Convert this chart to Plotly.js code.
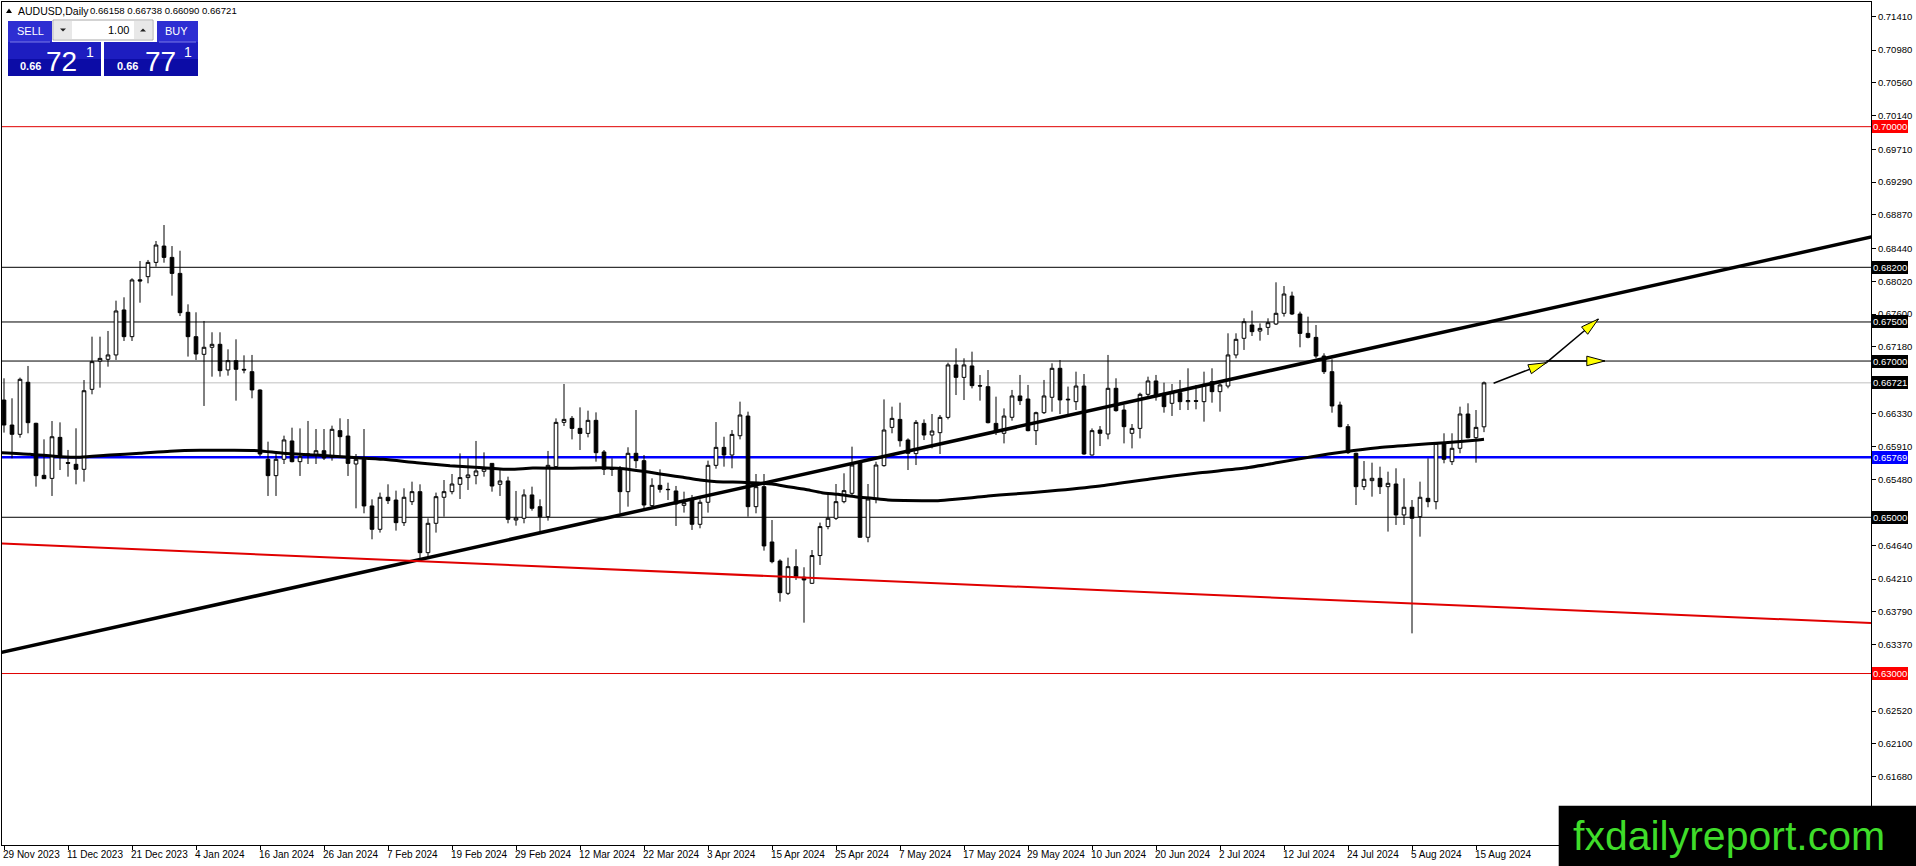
<!DOCTYPE html>
<html><head><meta charset="utf-8">
<script src="https://cdn.plot.ly/plotly-3.0.1.min.js"></script>
<style>html,body{margin:0;padding:0;background:#fff;overflow:hidden}#chart{width:1916px;height:866px}</style>
</head><body><div id="chart"></div>
<script>
// ---------- DATA ----------
const dates = [
"2023-11-29","2023-11-30","2023-12-01","2023-12-04","2023-12-05","2023-12-06","2023-12-07","2023-12-08","2023-12-11","2023-12-12",
"2023-12-13","2023-12-14","2023-12-15","2023-12-18","2023-12-19","2023-12-20","2023-12-21","2023-12-22","2023-12-26","2023-12-27",
"2023-12-28","2023-12-29","2024-01-02","2024-01-03","2024-01-04","2024-01-05","2024-01-08","2024-01-09","2024-01-10","2024-01-11",
"2024-01-12","2024-01-15","2024-01-16","2024-01-17","2024-01-18","2024-01-19","2024-01-22","2024-01-23","2024-01-24","2024-01-25",
"2024-01-26","2024-01-29","2024-01-30","2024-01-31","2024-02-01","2024-02-02","2024-02-05","2024-02-06","2024-02-07","2024-02-08",
"2024-02-09","2024-02-12","2024-02-13","2024-02-14","2024-02-15","2024-02-16","2024-02-19","2024-02-20","2024-02-21","2024-02-22",
"2024-02-23","2024-02-26","2024-02-27","2024-02-28","2024-02-29","2024-03-01","2024-03-04","2024-03-05","2024-03-06","2024-03-07",
"2024-03-08","2024-03-11","2024-03-12","2024-03-13","2024-03-14","2024-03-15","2024-03-18","2024-03-19","2024-03-20","2024-03-21",
"2024-03-22","2024-03-25","2024-03-26","2024-03-27","2024-03-28","2024-03-29","2024-04-01","2024-04-02","2024-04-03","2024-04-04",
"2024-04-05","2024-04-08","2024-04-09","2024-04-10","2024-04-11","2024-04-12","2024-04-15","2024-04-16","2024-04-17","2024-04-18",
"2024-04-19","2024-04-22","2024-04-23","2024-04-24","2024-04-25","2024-04-26","2024-04-29","2024-04-30","2024-05-01","2024-05-02",
"2024-05-03","2024-05-06","2024-05-07","2024-05-08","2024-05-09","2024-05-10","2024-05-13","2024-05-14","2024-05-15","2024-05-16",
"2024-05-17","2024-05-20","2024-05-21","2024-05-22","2024-05-23","2024-05-24","2024-05-27","2024-05-28","2024-05-29","2024-05-30",
"2024-05-31","2024-06-03","2024-06-04","2024-06-05","2024-06-06","2024-06-07","2024-06-10","2024-06-11","2024-06-12","2024-06-13",
"2024-06-14","2024-06-17","2024-06-18","2024-06-19","2024-06-20","2024-06-21","2024-06-24","2024-06-25","2024-06-26","2024-06-27",
"2024-06-28","2024-07-01","2024-07-02","2024-07-03","2024-07-04","2024-07-05","2024-07-08","2024-07-09","2024-07-10","2024-07-11",
"2024-07-12","2024-07-15","2024-07-16","2024-07-17","2024-07-18","2024-07-19","2024-07-22","2024-07-23","2024-07-24","2024-07-25",
"2024-07-26","2024-07-29","2024-07-30","2024-07-31","2024-08-01","2024-08-02","2024-08-05","2024-08-06","2024-08-07","2024-08-08",
"2024-08-09","2024-08-12","2024-08-13","2024-08-14","2024-08-15","2024-08-16"];

const opens = [
0.66501,0.66181,0.66062,0.66728,0.66203,0.65537,0.65498,0.66023,0.65700,0.65678,
0.65614,0.66638,0.67000,0.67022,0.67078,0.67654,0.67312,0.68040,0.68080,0.68263,
0.68472,0.68327,0.68122,0.67624,0.67312,0.67086,0.67176,0.67214,0.66886,0.67005,
0.66894,0.66864,0.66629,0.65742,0.65533,0.65742,0.65977,0.65712,0.65797,0.65797,
0.65852,0.65767,0.66109,0.66040,0.65682,0.65742,0.65145,0.64846,0.65256,0.65221,
0.64931,0.65200,0.65328,0.64547,0.64923,0.65256,0.65328,0.65422,0.65508,0.65533,
0.65589,0.65690,0.65422,0.65465,0.64965,0.64987,0.65286,0.65136,0.65008,0.65648,
0.66215,0.66266,0.66138,0.66074,0.66241,0.65836,0.65614,0.65605,0.65328,0.65819,
0.65725,0.65149,0.65409,0.65358,0.65337,0.65153,0.65221,0.64910,0.65192,0.65665,
0.65895,0.65797,0.66044,0.66296,0.65136,0.65392,0.64684,0.64440,0.64027,0.64368,
0.64232,0.64155,0.64510,0.64881,0.64987,0.65200,0.65307,0.65699,0.64744,0.65234,
0.65661,0.66151,0.66253,0.65989,0.65815,0.66202,0.66053,0.66083,0.66279,0.66950,
0.66791,0.66937,0.66685,0.66672,0.66202,0.66075,0.66280,0.66553,0.66514,0.66109,
0.66339,0.66536,0.66907,0.66502,0.66480,0.66680,0.65797,0.66117,0.66066,0.66651,
0.66373,0.66075,0.66138,0.66574,0.66745,0.66587,0.66459,0.66595,0.66480,0.66493,
0.66480,0.66736,0.66608,0.66680,0.67078,0.67291,0.67461,0.67384,0.67431,0.67474,
0.67611,0.67832,0.67602,0.67354,0.67303,0.67064,0.66864,0.66437,0.66160,0.65819,
0.65392,0.65469,0.65499,0.65392,0.65426,0.65030,0.65128,0.65008,0.65243,0.65200,
0.65955,0.65712,0.65883,0.66322,0.66019,0.66158];

const highs = [
0.66779,0.66523,0.66788,0.66937,0.66210,0.65998,0.66232,0.66215,0.65862,0.66139,
0.66757,0.67312,0.67312,0.67385,0.67773,0.67816,0.68059,0.68281,0.68294,0.68537,
0.68741,0.68472,0.68412,0.67726,0.67624,0.67513,0.67368,0.67368,0.67150,0.67278,
0.67073,0.67078,0.66637,0.65968,0.65810,0.66045,0.66147,0.66138,0.66233,0.66130,
0.66130,0.66173,0.66267,0.66258,0.65810,0.66130,0.65230,0.65316,0.65422,0.65341,
0.65371,0.65456,0.65422,0.64987,0.65316,0.65477,0.65554,0.65818,0.65755,0.65977,
0.65831,0.65695,0.65605,0.65520,0.65337,0.65358,0.65392,0.65230,0.65849,0.66266,
0.66706,0.66296,0.66407,0.66365,0.66343,0.65861,0.65755,0.65656,0.65896,0.66373,
0.65797,0.65499,0.65614,0.65443,0.65401,0.65328,0.65286,0.65230,0.65725,0.66219,
0.66031,0.66117,0.66480,0.66352,0.65554,0.65554,0.64965,0.64462,0.64483,0.64590,
0.64360,0.64581,0.64932,0.65298,0.65426,0.65563,0.65904,0.65712,0.65426,0.65712,
0.66509,0.66416,0.66467,0.66010,0.66245,0.66253,0.66322,0.66309,0.66979,0.67163,
0.67035,0.67120,0.66821,0.66885,0.66544,0.66394,0.66630,0.66822,0.66694,0.66352,
0.66758,0.66971,0.67013,0.66673,0.66864,0.66834,0.66138,0.66168,0.67078,0.66779,
0.66437,0.66194,0.66595,0.66800,0.66822,0.66723,0.66706,0.66758,0.66907,0.66694,
0.66864,0.66907,0.66715,0.67355,0.67355,0.67547,0.67645,0.67482,0.67547,0.68008,
0.67960,0.67888,0.67632,0.67568,0.67461,0.67099,0.67022,0.66480,0.66194,0.65827,
0.65720,0.65699,0.65648,0.65584,0.65627,0.65499,0.65221,0.65456,0.65755,0.65955,
0.66075,0.66075,0.66416,0.66459,0.66373,0.66738];

const lows = [
0.66084,0.65755,0.66019,0.66075,0.65392,0.65490,0.65273,0.65605,0.65520,0.65422,
0.65456,0.66574,0.66659,0.66928,0.67014,0.67257,0.67257,0.67747,0.67995,0.68208,
0.68259,0.67837,0.67576,0.67057,0.67014,0.66425,0.66800,0.66800,0.66813,0.66493,
0.66843,0.66523,0.65784,0.65273,0.65273,0.65682,0.65703,0.65529,0.65682,0.65682,
0.65733,0.65725,0.65776,0.65529,0.65115,0.65051,0.64718,0.64804,0.65170,0.64829,
0.64889,0.65157,0.64462,0.64487,0.64804,0.65008,0.65294,0.65234,0.65350,0.65422,
0.65520,0.65328,0.65273,0.64923,0.64893,0.64923,0.65085,0.64808,0.64957,0.65640,
0.66168,0.65997,0.65861,0.66023,0.65712,0.65541,0.65529,0.65051,0.65136,0.65627,
0.65115,0.65115,0.65316,0.65221,0.64889,0.65060,0.64838,0.64859,0.65060,0.65622,
0.65648,0.65627,0.65997,0.65008,0.65051,0.64573,0.64411,0.63920,0.64006,0.64198,
0.63651,0.64147,0.64390,0.64846,0.64965,0.65179,0.65286,0.64740,0.64680,0.65179,
0.65648,0.66075,0.65904,0.65605,0.65669,0.65989,0.65882,0.65810,0.66253,0.66565,
0.66501,0.66650,0.66493,0.66202,0.66053,0.65946,0.66237,0.66437,0.66100,0.65925,
0.66322,0.66352,0.66322,0.66322,0.66373,0.65800,0.65790,0.65912,0.65998,0.66352,
0.65946,0.65882,0.66010,0.66523,0.66493,0.66339,0.66297,0.66373,0.66373,0.66382,
0.66224,0.66467,0.66352,0.66651,0.67035,0.67142,0.67321,0.67261,0.67334,0.67461,
0.67569,0.67589,0.67176,0.67290,0.67035,0.66834,0.66339,0.66152,0.65810,0.65157,
0.65349,0.65264,0.65298,0.64817,0.64902,0.64902,0.63514,0.64752,0.65128,0.65102,
0.65691,0.65669,0.65819,0.66010,0.65699,0.66090];

const closes = [
0.66181,0.66062,0.66766,0.66211,0.65533,0.65494,0.66031,0.65775,0.65691,0.65614,
0.66620,0.66992,0.67034,0.67078,0.67641,0.67312,0.68038,0.68025,0.68263,0.68485,
0.68327,0.68122,0.67619,0.67312,0.67090,0.67176,0.67214,0.66877,0.67005,0.66894,
0.66886,0.66630,0.65810,0.65533,0.65742,0.65990,0.65712,0.65776,0.65810,0.65852,
0.65759,0.66126,0.66032,0.65690,0.65742,0.65145,0.64846,0.65256,0.65213,0.64931,
0.65256,0.65328,0.64547,0.64923,0.65264,0.65328,0.65426,0.65508,0.65542,0.65593,
0.65627,0.65400,0.65465,0.64974,0.64991,0.65286,0.65115,0.65008,0.65665,0.66215,
0.66253,0.66138,0.66074,0.66241,0.65827,0.65614,0.65618,0.65328,0.65819,0.65725,
0.65157,0.65409,0.65358,0.65354,0.65170,0.65187,0.64910,0.65192,0.65665,0.65895,
0.65797,0.66061,0.66309,0.65136,0.65392,0.64633,0.64432,0.64035,0.64368,0.64240,
0.64198,0.64510,0.64881,0.64987,0.65200,0.65341,0.65669,0.64744,0.65234,0.65669,
0.66117,0.66266,0.65980,0.65819,0.66215,0.66053,0.66104,0.66279,0.66950,0.66791,
0.66950,0.66685,0.66680,0.66211,0.66096,0.66296,0.66553,0.66493,0.66109,0.66339,
0.66553,0.66907,0.66502,0.66510,0.66680,0.65810,0.66109,0.66075,0.66651,0.66365,
0.66160,0.66138,0.66574,0.66745,0.66544,0.66416,0.66595,0.66480,0.66493,0.66485,
0.66702,0.66608,0.66694,0.67078,0.67278,0.67504,0.67376,0.67418,0.67491,0.67611,
0.67858,0.67602,0.67354,0.67303,0.67064,0.66864,0.66425,0.66160,0.65827,0.65392,
0.65486,0.65499,0.65392,0.65435,0.65030,0.65128,0.64987,0.65256,0.65200,0.65947,
0.65742,0.65883,0.66322,0.66019,0.66151,0.66721];

// moving average line (read at sparse points: bar position, value)
const maPos = [-0.5,3.25,7,9.5,13.25,17,20.75,24.5,28.25,31.75,34.9,39.1,43.25,47.4,51.6,55.75,59.9,63.25,66.1,70.4,74.5,76.6,78.6,80.75,82.9,84.9,87,89.1,91.1,93.25,96,98,100.1,102.25,104.25,106.4,108.5,110.5,114.75,116.75,118.9,121,123,125.75,130.75,137,143.25,149.5,155.1,159.25,163.5,167.6,171.75,176,180.1,184.25,185];
const maVals = [0.65827,0.65806,0.65776,0.65768,0.65797,0.65819,0.65845,0.65857,0.65857,0.65853,0.65819,0.65797,0.65768,0.65742,0.65699,0.65661,0.65635,0.65614,0.65630,0.65627,0.65635,0.65627,0.65606,0.65576,0.65541,0.65512,0.65477,0.65456,0.65452,0.65443,0.65426,0.65392,0.65358,0.65315,0.65294,0.65264,0.65243,0.65221,0.65213,0.65213,0.65230,0.65251,0.65273,0.65294,0.65335,0.65400,0.65490,0.65570,0.65630,0.65700,0.65776,0.65840,0.65891,0.65925,0.65955,0.65990,0.65998];

// x labels every 8 bars
const xLabelIdx = [0,8,16,24,32,40,48,56,64,72,80,88,96,104,112,120,128,136,144,152,160,168,176,184];
const MONTHS = ['Jan','Feb','Mar','Apr','May','Jun','Jul','Aug','Sep','Oct','Nov','Dec'];

// y tick labels of the price scale (labels hidden under level boxes are left blank)
const yTicks = [0.71410,0.70980,0.70560,0.70140,0.69710,0.69290,0.68870,0.68440,0.68020,0.67600,0.67180,0.66760,0.66330,0.65910,0.65480,0.65060,0.64640,0.64210,0.63790,0.63370,0.62950,0.62520,0.62100,0.61680];
const yTicksCovered = [0.66760,0.65060,0.62950];

// horizontal levels
const levelVals   = [0.70000,0.68200,0.67500,0.67000,0.66721,0.65769,0.65000,0.63000];
const levelColors = ['#e00000','#000000','#000000','#000000','#c0c0c0','#0000ff','#000000','#e00000'];
const levelWidths = [1,1,1,1,1,2.5,1,1];
const levelBoxBg  = ['#ff0000','#000000','#000000','#000000','#000000','#0000ff','#000000','#ff0000'];

// trend lines (two anchors each: bar position, price)
const trendUpX = [0, 233.25],  trendUpY = [0.63277, 0.68584];
const trendDnX = [-0.5, 233.1], trendDnY = [0.64667, 0.63647];

// drawn arrows (start, end)
const arrowX0 = [186.2, 192.8, 192.8], arrowY0 = [0.66715, 0.66979, 0.67001];
const arrowX1 = [192.8, 199.3, 200.1], arrowY1 = [0.66979, 0.67538, 0.67001];

const header = {sym:'AUDUSD,Daily', ohlc:'0.66158 0.66738 0.66090 0.66721'};

// ---------- LAYOUT ----------
const FW=1916, FH=866, M={l:2,r:45,t:2,b:21};
const PW=FW-M.l-M.r, PH=FH-M.t-M.b;
const XR=[-0.25,233.375], YR=[0.60805,0.71596];
const pX = x => (x-M.l)/PW;
const pY = y => 1-(y-M.t)/PH;
const FONT = 'Liberation Sans, Arial, sans-serif';

function rect(x0,y0,x1,y1,fill,lc,lw){return {type:'rect',xref:'paper',yref:'paper',x0:pX(x0),x1:pX(x1),y0:pY(y1),y1:pY(y0),fillcolor:fill,line:{color:lc||fill,width:lw||0},layer:'above'};}
function poly(pts,fill){return {type:'path',xref:'paper',yref:'paper',path:'M'+pts.map(p=>pX(p[0])+','+pY(p[1])).join('L')+'Z',fillcolor:fill,line:{color:fill,width:0},layer:'above'};}
function txt(s,x,y,size,color,xa,extra){return Object.assign({text:s,xref:'paper',yref:'paper',x:pX(x),y:pY(y),xanchor:xa||'left',yanchor:'middle',showarrow:false,borderpad:0,borderwidth:0,font:{family:FONT,size:size,color:color}},extra||{});}

function lineThrough(xs,ys,xa,xb){const m=(ys[1]-ys[0])/(xs[1]-xs[0]);return {x:[xa,xb],y:[ys[0]+m*(xa-xs[0]),ys[0]+m*(xb-xs[0])]};}

const idx = dates.map((d,i)=>i);
const traces = [];
traces.push({type:'candlestick',x:idx,open:opens,high:highs,low:lows,close:closes,
  increasing:{line:{color:'#000',width:1},fillcolor:'#ffffff'},
  decreasing:{line:{color:'#000',width:1},fillcolor:'#000000'},
  whiskerwidth:0,hoverinfo:'none',showlegend:false});
traces.push({type:'scatter',mode:'lines',x:maPos,y:maVals,line:{color:'#000',width:3,shape:'spline',smoothing:0.6},hoverinfo:'none'});
const tu=lineThrough(trendUpX,trendUpY,-2,240);
traces.push({type:'scatter',mode:'lines',x:tu.x,y:tu.y,line:{color:'#000',width:3.5},hoverinfo:'none'});
const td=lineThrough(trendDnX,trendDnY,-2,240);
traces.push({type:'scatter',mode:'lines',x:td.x,y:td.y,line:{color:'#e00000',width:2},hoverinfo:'none'});
for(let k=0;k<arrowX0.length;k++){
  traces.push({type:'scatter',mode:'lines',x:[arrowX0[k],arrowX1[k]],y:[arrowY0[k],arrowY1[k]],line:{color:'#000',width:1.5},hoverinfo:'none'});
}

const shapes=[];
levelVals.forEach((v,i)=>shapes.push({type:'line',xref:'paper',yref:'y',x0:0,x1:1,y0:v,y1:v,line:{color:levelColors[i],width:levelWidths[i]},layer:'below'}));

// arrow heads
const xpp=(XR[1]-XR[0])/PW, ypp=(YR[1]-YR[0])/PH;
for(let k=0;k<arrowX0.length;k++){
  const x0=arrowX0[k],y0=arrowY0[k],x1=arrowX1[k],y1=arrowY1[k];
  const dx=(x1-x0)/xpp, dy=(y1-y0)/ypp, len=Math.hypot(dx,dy);
  const ux=dx/len, uy=dy/len, Lh=18, Wh=4.8;
  const P=(ox,oy)=>(x1+ox*xpp)+','+(y1+oy*ypp);
  shapes.push({type:'path',xref:'x',yref:'y',
    path:'M'+P(0,0)+'L'+P(-ux*Lh-uy*Wh,-uy*Lh+ux*Wh)+'L'+P(-ux*Lh+uy*Wh,-uy*Lh-ux*Wh)+'Z',
    fillcolor:'#ffff00',line:{color:'#000',width:1},layer:'above'});
}

// one-click trading panel
shapes.push(rect(8,21,52,42,'#2e2ed2'));
shapes.push(rect(157,21,198,42,'#2e2ed2'));
shapes.push(rect(8,42,101,59,'#1d1dc0'));
shapes.push(rect(8,59,101,76,'#0c0ca6'));
shapes.push(rect(104,42,198,59,'#1d1dc0'));
shapes.push(rect(104,59,198,76,'#0c0ca6'));
shapes.push(rect(10,41.5,50,42.5,'#7a7ae6'));
shapes.push(rect(159,41.5,196,42.5,'#7a7ae6'));
shapes.push(rect(53,20,153,40,'#ffffff','#a8a8a8',1));
shapes.push(rect(54,21,72,39,'#e8e8e8'));
shapes.push(rect(134,21,152,39,'#e8e8e8'));
shapes.push(poly([[60,28.5],[66,28.5],[63,31.5]],'#202020'));
shapes.push(poly([[140,31.5],[146,31.5],[143,28.5]],'#202020'));
// header triangle
shapes.push(poly([[6,13],[12,13],[9,8.5]],'#000000'));
// watermark box
shapes.push(rect(1558.7,805.7,1920,870,'#000000'));

const annotations=[];
annotations.push(txt(header.sym,18,11,10.5,'#000'));
annotations.push(txt(header.ohlc,90,11,9.6,'#000'));
annotations.push(txt('SELL',30,31.5,11,'#fff','center'));
annotations.push(txt('BUY',176.5,31.5,11,'#fff','center'));
annotations.push(txt('1.00',129,30,11,'#000','right'));
annotations.push(txt('<b>0.66</b>',20,65.5,11,'#fff'));
annotations.push(txt('72',46,61,28,'#fff'));
annotations.push(txt('1',86,52,14,'#fff'));
annotations.push(txt('<b>0.66</b>',117,65.5,11,'#fff'));
annotations.push(txt('77',145,61,28,'#fff'));
annotations.push(txt('1',184,52,14,'#fff'));
annotations.push(txt('fxdailyreport.com',1573,836,41,'#3fdc2a'));

// date labels
xLabelIdx.forEach(i=>{const p=dates[i].split('-');annotations.push({text:(+p[2])+' '+MONTHS[+p[1]-1]+' '+p[0],xref:'x',yref:'paper',x:i,y:pY(854),xanchor:'left',yanchor:'middle',xshift:-1,showarrow:false,borderpad:0,borderwidth:0,font:{family:FONT,size:10,color:'#000'}});});

// level price boxes
levelVals.forEach((v,i)=>annotations.push({text:v.toFixed(5),xref:'paper',yref:'y',x:1,y:v,xanchor:'left',yanchor:'middle',xshift:1,showarrow:false,bgcolor:levelBoxBg[i],borderpad:1,borderwidth:0,font:{family:FONT,size:9.5,color:'#fff'}}));

const layout={width:FW,height:FH,margin:{l:M.l,r:M.r,t:M.t,b:M.b,pad:0},paper_bgcolor:'#fff',plot_bgcolor:'#fff',showlegend:false,boxgap:0.35,
  xaxis:{range:XR,showgrid:false,zeroline:false,showline:true,mirror:true,linecolor:'#000',linewidth:1,ticks:'outside',ticklen:4,tickcolor:'#000',tickvals:xLabelIdx,showticklabels:false,rangeslider:{visible:false},automargin:false,fixedrange:true},
  yaxis:{range:YR,side:'right',showgrid:false,zeroline:false,showline:true,mirror:true,linecolor:'#000',linewidth:1,ticks:'outside',ticklen:4,tickcolor:'#000',tickvals:yTicks,ticktext:yTicks.map(v=>yTicksCovered.includes(v)?'':v.toFixed(5)),tickfont:{family:FONT,size:9.5,color:'#000'},automargin:false,fixedrange:true},
  shapes:shapes,annotations:annotations};

Plotly.newPlot('chart',traces,layout,{staticPlot:true,displayModeBar:false});
</script>
</body></html>
